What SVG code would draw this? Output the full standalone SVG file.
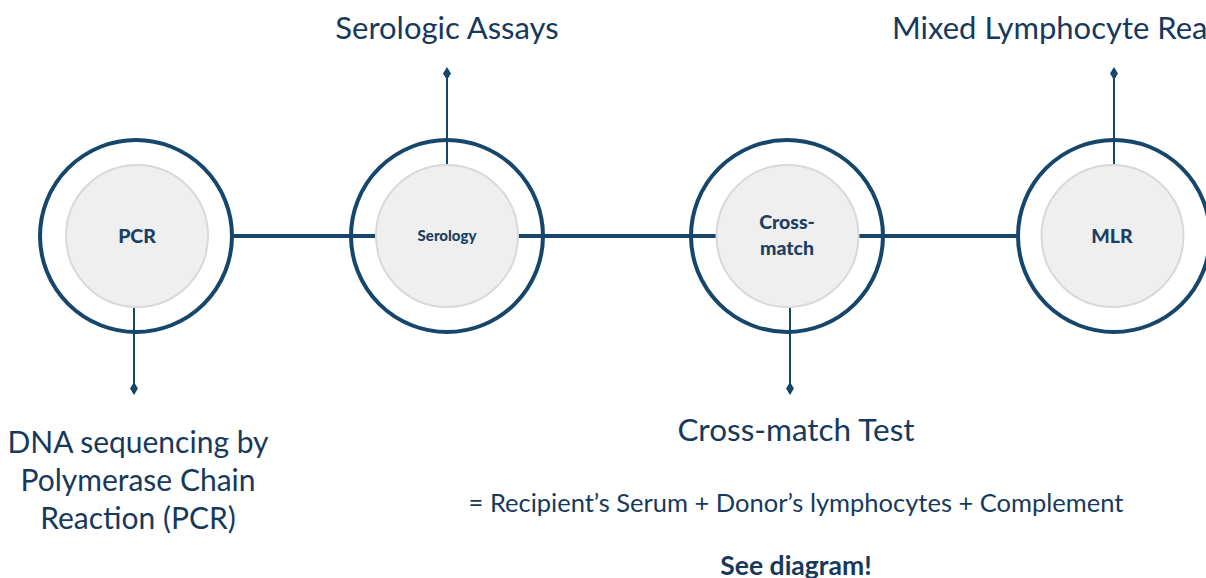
<svg xmlns="http://www.w3.org/2000/svg" width="1206" height="578" viewBox="0 0 1206 578">
<style>
.outer{fill:none;stroke:#17466b;stroke-width:4}
.inner{fill:#efefef;stroke:#d9d9d9;stroke-width:2}
.conn{stroke:#17466b;fill:none}
.main{stroke-width:4}
.stem{stroke-width:2}
.dot{fill:#17466b}
.lbl{font-family:Lato,"Open Sans",sans-serif;font-weight:900;fill:#1b3f63;text-anchor:middle}
.big{font-family:Lato,"Open Sans",sans-serif;font-size:31px;fill:#17395c;text-anchor:middle}
.mid{font-family:Lato,"Open Sans",sans-serif;font-size:25.5px;fill:#17395c;text-anchor:middle}
</style>
<rect width="1206" height="578" fill="#ffffff"/>
<g id="connectors">
<line class="conn main" x1="232" y1="236" x2="1016" y2="236"/>
<line class="conn stem" x1="447" y1="74" x2="447" y2="164"/>
<path class="dot" d="M447 67 L451 73.5 L447 80 L443 73.5 Z"/>
<line class="conn stem" x1="1114" y1="74" x2="1114" y2="164"/>
<path class="dot" d="M1114 67 L1118 73.5 L1114 80 L1110 73.5 Z"/>
<line class="conn stem" x1="134" y1="308" x2="134" y2="388"/>
<path class="dot" d="M134 382 L138 388.5 L134 395 L130 388.5 Z"/>
<line class="conn stem" x1="790" y1="308" x2="790" y2="388"/>
<path class="dot" d="M790 382 L794 388.5 L790 395 L786 388.5 Z"/>
</g>
<g id="pcr">
<circle class="outer" cx="136" cy="236" r="96"/>
<circle class="inner" cx="137" cy="236" r="71"/>
<text class="lbl" x="137" y="243" font-size="19.5">PCR</text>
</g>
<g id="serology">
<circle class="outer" cx="447" cy="236" r="96"/>
<circle class="inner" cx="447" cy="236" r="71"/>
<text class="lbl" x="447" y="241" font-size="15">Serology</text>
</g>
<g id="crossmatch">
<circle class="outer" cx="787" cy="236" r="96"/>
<circle class="inner" cx="787.5" cy="236" r="71"/>
<text class="lbl" x="787" y="229" font-size="19.5">Cross-</text>
<text class="lbl" x="787" y="255" font-size="19.5">match</text>
</g>
<g id="mlr">
<circle class="outer" cx="1114" cy="236" r="96"/>
<circle class="inner" cx="1112.5" cy="236" r="71"/>
<text class="lbl" x="1112" y="243" font-size="19.5">MLR</text>
</g>
<g id="labels">
<text class="big" x="447" y="39">Serologic Assays</text>
<text class="big" x="892" y="39" style="text-anchor:start">Mixed Lymphocyte Reaction</text>
<text class="big" x="138" y="453" style="font-size:30px">DNA sequencing by</text>
<text class="big" x="138" y="491" style="font-size:30px">Polymerase Chain</text>
<text class="big" x="138" y="529" style="font-size:30px">Reaction (PCR)</text>
<text class="big" x="796" y="441" style="font-size:31.5px">Cross-match Test</text>
<text class="mid" x="796" y="512">= Recipient’s Serum + Donor’s lymphocytes + Complement</text>
<text class="mid" x="796" y="575" style="font-size:26.5px;font-weight:bold">See diagram!</text>
</g>
</svg>
